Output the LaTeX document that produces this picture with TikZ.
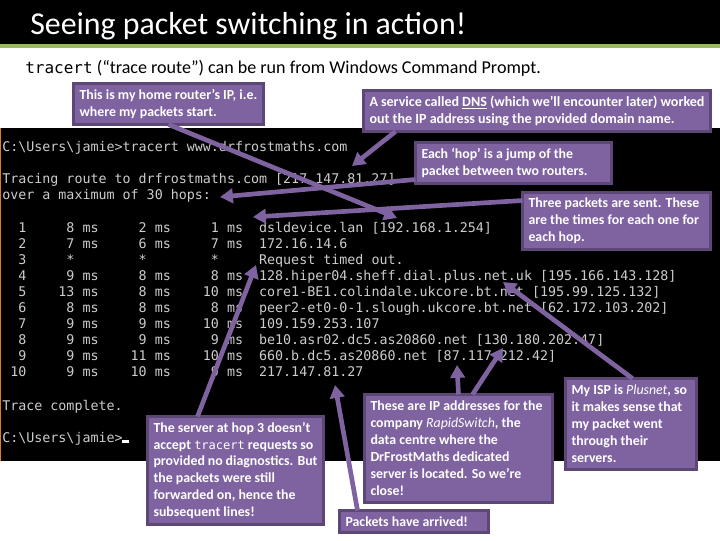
\documentclass[tikz,border=0pt]{standalone}
\usepackage{fontspec}
\setmainfont{Carlito}
\setmonofont{DejaVu Sans Mono}
\usetikzlibrary{arrows.meta, calc}
\definecolor{calloutFill}{HTML}{7F63A1}
\definecolor{calloutEdge}{HTML}{5C4776}
\definecolor{bandGreen}{HTML}{9BB866}
\definecolor{termText}{HTML}{CCCCCC}
\newcommand{\hopArrow}{{Triangle[length=3.4mm,width=3.8mm]}}
\tikzset{
	callout/.style={draw=calloutEdge, fill=calloutFill, line width=2.25pt, text=white, font=\fontsize{10.4pt}{12.7pt}\selectfont\bfseries, align=flush left, inner xsep=4.5pt, inner ysep=0pt, outer sep=0pt, anchor=north west, text width=#1*0.75pt-9pt},
	pointer/.style={-\hopArrow, draw=calloutFill, line width=3.5pt},
	termline/.style={text=termText, anchor=base west, inner sep=0pt, font=\ttfamily\fontsize{10pt}{12pt}\selectfont}
}
\begin{document}
\begin{tikzpicture}[x=0.75pt, y=-0.75pt]
	\useasboundingbox (0,0) rectangle (720,540);
	\fill[white] (0,0) rectangle (720,540);

	% header
	\fill[black] (0,0) rectangle (720,44);
	\fill[bandGreen] (0,44) rectangle (720,48);
	\node[anchor=base west, inner sep=0pt, text=white, font=\fontsize{23.9pt}{28pt}\selectfont] (title) at (30,34) {Seeing packet switching in action!};
	\node[anchor=base west, inner sep=0pt, font=\fontsize{13.55pt}{16pt}\selectfont] (intro) at (25,73) {{\ttfamily\fontsize{12pt}{14pt}\selectfont tracert} (“trace route”) can be run from Windows Command Prompt.};

	% console
	\fill[black] (1,128) rectangle (720,461);
	\fill[brown!60!orange] (0,128) rectangle (1,461);
	\fill[white] (122,440) rectangle (129,443);
	\foreach \n/\yy/\row in {
		a/151/{C:\textbackslash Users\textbackslash jamie>tracert www.drfrostmaths.com},
		b/183/{Tracing route to drfrostmaths.com [217.147.81.27]},
		c/199/{over a maximum of 30 hops:},
		d/232/{~~1~~~~~8 ms~~~~~2 ms~~~~~1 ms~~dsldevice.lan [192.168.1.254]},
		e/248/{~~2~~~~~7 ms~~~~~6 ms~~~~~7 ms~~172.16.14.6},
		f/264/{~~3~~~~~*~~~~~~~~*~~~~~~~~*~~~~~Request timed out.},
		g/280/{~~4~~~~~9 ms~~~~~8 ms~~~~~8 ms~~128.hiper04.sheff.dial.plus.net.uk [195.166.143.128]},
		h/296/{~~5~~~~13 ms~~~~~8 ms~~~~10 ms~~core1-BE1.colindale.ukcore.bt.net [195.99.125.132]},
		i/312/{~~6~~~~~8 ms~~~~~8 ms~~~~~8 ms~~peer2-et0-0-1.slough.ukcore.bt.net [62.172.103.202]},
		j/328/{~~7~~~~~9 ms~~~~~9 ms~~~~10 ms~~109.159.253.107},
		k/344/{~~8~~~~~9 ms~~~~~9 ms~~~~~9 ms~~be10.asr02.dc5.as20860.net [130.180.202.47]},
		l/360/{~~9~~~~~9 ms~~~~11 ms~~~~10 ms~~660.b.dc5.as20860.net [87.117.212.42]},
		m/376/{~10~~~~~9 ms~~~~10 ms~~~~~9 ms~~217.147.81.27},
		n/410/{Trace complete.},
		o/442/{C:\textbackslash Users\textbackslash jamie>}
	}{
		\node[termline] (term\n) at (2,\yy) {\row};
	}

	% callouts
	\node[callout=190, minimum height=41*0.75pt] (router) at (73.5,83.5) {This is my home router’s IP, i.e.\\where my packets start.};
	\node[callout=347, minimum height=41*0.75pt, font=\fontsize{10.55pt}{12.7pt}\selectfont\bfseries] (dns) at (363.5,90.5) {A service called \underline{DNS} (which we’ll encounter later) worked\\out the IP address using the provided domain name.};
	\node[callout=196, minimum height=41*0.75pt] (hop) at (415.5,142.5) {Each ‘hop’ is a jump of the\\packet between two routers.};
	\node[callout=188, minimum height=57*0.75pt] (times) at (522.5,192.5) {Three packets are sent. These\\are the times for each one for\\each hop.};
	\node[callout=176, minimum height=108*0.75pt] (server) at (147.5,416.5) {The server at hop 3 doesn’t\\accept {\ttfamily\mdseries\fontsize{9pt}{12pt}\selectfont tracert} requests so\\provided no diagnostics. But\\the packets were still\\forwarded on, hence the\\subsequent lines!};
	\node[callout=188, minimum height=108*0.75pt] (rapid) at (364.5,394.5) {These are IP addresses for the\\company \textit{\mdseries RapidSwitch}, the\\data centre where the\\DrFrostMaths dedicated\\server is located. So we’re\\close!};
	\node[callout=149, minimum height=22*0.75pt] (arrived) at (339.5,510.5) {Packets have arrived!};
	\node[callout=131, minimum height=91*0.75pt] (isp) at (565.5,378.5) {My ISP is \textit{\mdseries Plusnet}, so\\it makes sense that\\my packet went\\through their\\servers.};

	% where each one points
	\coordinate (routerTip) at (397,218);
	\coordinate (dnsTip) at (352,166);
	\coordinate (hopTip) at (220,197);
	\coordinate (timesTip) at (253,217);
	\coordinate (serverTip) at (256,265);
	\coordinate (arrivedTip) at (335,385);
	\coordinate (rapidTipA) at (457,365);
	\coordinate (rapidTipB) at (503,348);
	\coordinate (ispTip) at (503,282);

	\draw[pointer] (router.south) -- (routerTip);
	\draw[pointer] ($(dns.south west)+(32,0)$) -- (dnsTip);
	\draw[pointer] ($(hop.south west)+(0,-4)$) -- (hopTip);
	\draw[pointer] ($(times.north west)+(0,8)$) -- (timesTip);
	\draw[pointer] ($(server.north west)+(50,0)$) -- (serverTip);
	\draw[pointer] ($(arrived.north west)+(18,0)$) -- (arrivedTip);
	\draw[pointer] ($(rapid.north west)+(94,0)$) -- (rapidTipA);
	\draw[pointer] ($(rapid.north west)+(108,0)$) -- (rapidTipB);
	\draw[pointer] ($(isp.north west)+(67,0)$) -- (ispTip);
\end{tikzpicture}
\end{document}
